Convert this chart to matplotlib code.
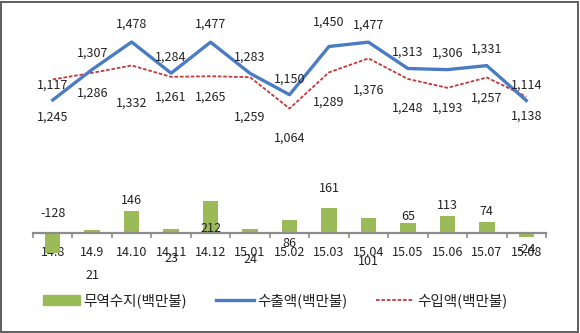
import matplotlib
matplotlib.use("Agg")
import matplotlib.pyplot as plt
from matplotlib.patches import Patch, Rectangle
from matplotlib.lines import Line2D

plt.rcParams['font.family'] = ['Noto Sans CJK KR', 'DejaVu Sans']

# data (백만불)
months = ['14.8', '14.9', '14.10', '14.11', '14.12', '15.01', '15.02',
          '15.03', '15.04', '15.05', '15.06', '15.07', '15.08']
exports = [1117, 1307, 1478, 1284, 1477, 1283, 1150, 1450, 1477, 1313, 1306, 1331, 1114]
imports = [1245, 1286, 1332, 1261, 1265, 1259, 1064, 1289, 1376, 1248, 1193, 1257, 1138]
balance = [-128, 21, 146, 23, 212, 24, 86, 161, 101, 65, 113, 74, -24]

# label offsets in pixels (screen y, + = down), mimicking the original placement
exp_dy = [-15, -16.5, -18, -16, -18, -16, -16, -24, -17, -16.5, -16.5, -16.5, -15.5]
imp_dy = [38, 20, 37.5, 20, 21, 40, 30, 30, 32, 29, 20, 21, 20]
bal_dy = [-38.6, 46, -9.7, 29.5, 28.4, 29.7, 24, -19.4, 43.5, -7, -10.7, -9.7, 13.3]

W, H, DPI = 580, 333, 100
PT = 72 / DPI

green = '#9BBB59'
blue = '#4A7CC4'
red = '#C0393B'

fig = plt.figure(figsize=(W / DPI, H / DPI), dpi=DPI)
ax = fig.add_axes([33 / W, (H - 270) / H, 513 / W, 260 / H])
x = list(range(len(months)))

# bars on primary axis
ax.bar(x, balance, width=0.39, color=green, zorder=2)
ax.set_xlim(-0.5, len(months) - 0.5)
ax.set_ylim(-241.8, 1457.5)
for s in ['top', 'right', 'left']:
    ax.spines[s].set_visible(False)
ax.spines['bottom'].set_position(('data', 0))
ax.spines['bottom'].set_color('#8c8c8c')
ax.spines['bottom'].set_linewidth(1.6)
ax.set_yticks([])
ax.set_xticks([i - 0.5 for i in range(len(months) + 1)], minor=False)
ax.set_xticklabels([])
ax.set_xticks(x, minor=True)
ax.set_xticklabels(months, minor=True, fontsize=9, color='#222222')
ax.tick_params(axis='x', which='major', direction='out', length=3.5, width=1.2, color='#8c8c8c')
ax.tick_params(axis='x', which='minor', length=0, pad=9)

for i, v in enumerate(balance):
    ax.annotate(f'{v}', (i, v), xytext=(0, -bal_dy[i] * PT), textcoords='offset points',
                ha='center', va='center', fontsize=9, color='#222222', zorder=5)

# lines on secondary axis
ax2 = ax.twinx()
ax2.set_ylim(59.2, 1677.1)
ax2.set_yticks([])
for s in ax2.spines.values():
    s.set_visible(False)
ax2.plot(x, imports, color=red, lw=1.3, linestyle=(0, (2, 1)))
ax2.plot(x, exports, color=blue, lw=2.4)

for i in x:
    ax2.annotate(f'{exports[i]:,}', (i, exports[i]), xytext=(0, -exp_dy[i] * PT),
                 textcoords='offset points', ha='center', va='center', fontsize=9, color='#222222')
    ax2.annotate(f'{imports[i]:,}', (i, imports[i]), xytext=(0, -imp_dy[i] * PT),
                 textcoords='offset points', ha='center', va='center', fontsize=9, color='#222222')

# legend
handles = [Patch(color=green),
           Line2D([], [], color=blue, lw=2.4),
           Line2D([], [], color=red, lw=1.3, linestyle=(0, (2, 1)))]
names = ['무역수지(백만불)', '수출액(백만불)', '수입액(백만불)']
fig.legend(handles, names, loc='center', bbox_to_anchor=(275 / W, (H - 301) / H), ncol=3,
           frameon=False, fontsize=10.5, handlelength=2.6, handleheight=0.7,
           handletextpad=0.2, columnspacing=2.0, labelcolor='#222222')

# outer frame
fig.patches.append(Rectangle((0.8 / W, 1.5 / H), 577.5 / W, 330 / H, transform=fig.transFigure,
                             fill=False, edgecolor='#5e5e5e', lw=1.4))

fig.savefig('out.png', dpi=DPI)
